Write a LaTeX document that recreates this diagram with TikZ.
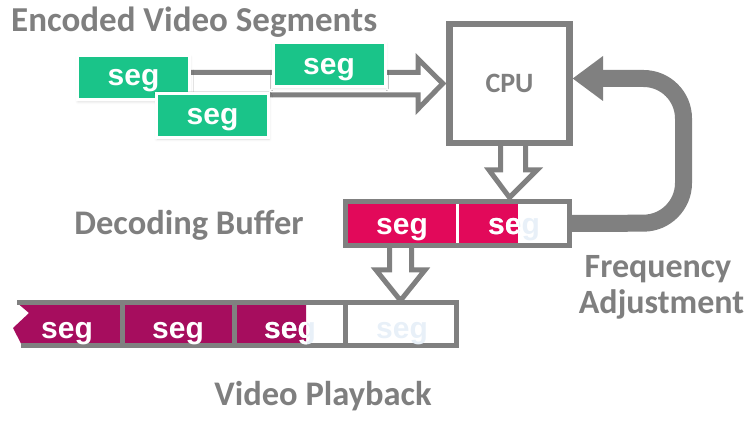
\documentclass[tikz,border=0pt]{standalone}
\usepackage{fontspec}
\setmainfont{Carlito}
\newfontfamily\segfamily{Liberation Sans}
\usetikzlibrary{shadows.blur,backgrounds}

\definecolor{segGreen}{RGB}{26,196,137}
\definecolor{bufMagenta}{RGB}{226,9,90}
\definecolor{playMagenta}{RGB}{166,13,94}
\definecolor{lineGray}{RGB}{128,128,128}
\definecolor{textGray}{RGB}{127,127,127}
\definecolor{segPale}{RGB}{232,240,248}

\begin{document}
\begin{tikzpicture}[x=1pt,y=-1pt,
  hollowarrow/.style={draw=lineGray, line width=5pt, fill=white, line join=miter},
  greenseg/.style={rectangle, fill=segGreen, draw=white, line width=3pt,
    minimum width=112pt, minimum height=44pt, inner sep=0pt,
    blur shadow={shadow xshift=0.5pt, shadow yshift=-1.5pt, shadow opacity=15, shadow blur radius=3pt}},
  cpubox/.style={rectangle, draw=lineGray, fill=white, line width=6.5pt,
    minimum width=120pt, minimum height=119pt, inner sep=0pt,
    text=textGray, font=\bfseries\fontsize{28}{32}\selectfont},
  bufbox/.style={rectangle, draw=lineGray, fill=white, line width=5pt,
    minimum width=224pt, minimum height=44pt, inner sep=0pt},
  segtext/.style={anchor=base, text=white, inner sep=0pt,
    font=\segfamily\bfseries\fontsize{30}{34}\selectfont},
  paleseg/.style={segtext, text=segPale},
  graylabel/.style={anchor=base, text=textGray, inner sep=0pt,
    font=\bfseries\fontsize{34.5}{40}\selectfont},
]
\useasboundingbox (0,0) rectangle (750,422);

% ---------- labels ----------
\node[graylabel, anchor=base west, font=\bfseries\fontsize{35}{40}\selectfont] (title) at (11,32) {Encoded Video Segments};
\node[graylabel] (declabel) at (189,235) {Decoding Buffer};
\node[graylabel, font=\bfseries\fontsize{34}{40}\selectfont] (freq) at (658,277) {Frequency};
\node[graylabel, font=\bfseries\fontsize{34}{40}\selectfont] (adj) at (661.5,313) {Adjustment};
\node[graylabel] (playlabel) at (323,405) {Video Playback};

% ---------- processor and decoding buffer ----------
\node[cpubox] (cpu) at (509.5,83.5) {CPU};
\node[bufbox] (buf) at (457.5,223.5) {};
\fill[bufMagenta] (348,204) rectangle (518,243);
\fill[white] (455.8,204) rectangle (459.2,243);
\node[segtext] (bs1) at (402,235) {seg};
\node[paleseg] (bs2) at (514,235) {seg};
\begin{scope}
  \clip (455,200) rectangle (518,248);
  \node[segtext] (bs2w) at (514,235) {seg};
\end{scope}

% ---------- incoming segments ----------
\node[greenseg] (g1) at (133.5,78) {};
\node[segtext] (gt1) at (133.5,86) {seg};
\node[greenseg] (g3) at (329,64.5) {};
\node[segtext] (gt3) at (329,75) {seg};
\node[greenseg] (g2) at (212.5,115.5) {};
\node[segtext] (gt2) at (212.5,125) {seg};

% ---------- playback strip ----------
\fill[playMagenta] (19,304.5) -- (29,313) -- (13,328) -- (21,343.5) -- (306,343.5) -- (306,304.5) -- cycle;
\draw[lineGray, line width=5pt] (17,302) -- (459,302);
\draw[lineGray, line width=5pt] (21,345.5) -- (459,345.5);
\foreach \px in {122.5,234,345.5,456.5}
  \draw[lineGray, line width=5pt] (\px,302) -- (\px,345.5);
\node[segtext] (ps1) at (67,338) {seg};
\node[segtext] (ps2) at (178,338) {seg};
\node[paleseg] (ps3) at (290,338) {seg};
\begin{scope}
  \clip (237,300) rectangle (306,348);
  \node[segtext] (ps3w) at (290,338) {seg};
\end{scope}
\node[paleseg] (ps4) at (402,338) {seg};

% ---------- connectors, kept underneath the boxes ----------
\begin{scope}[on background layer]
  % segments flowing into the processor
  \draw[hollowarrow] (175,72.5) -- (418,72.5) -- (418,59)
        -- ([xshift=-3.5pt]cpu.west) -- (418,109) -- (418,95) -- (175,95) -- cycle;
  % processor writes into the buffer
  \draw[hollowarrow] (500.5,138) -- (500.5,170) -- (489,170)
        -- ([yshift=1.5pt]cpu.south |- buf.north) -- (537,170) -- (525.5,170) -- (525.5,138) -- cycle;
  % buffer feeds playback
  \draw[hollowarrow] (389.5,240) -- (389.5,270) -- (376,270)
        -- (400.5,300.5) -- (425,270) -- (411.5,270) -- (411.5,240) -- cycle;
  % frequency feedback loop
  \draw[lineGray, line width=17pt, rounded corners=40pt]
        (buf.east) -- (683.5,223) -- (683.5,78.5) -- (601,78.5);
  \fill[lineGray] (603,56) -- (cpu.east |- 0,78.5) -- (603,101) -- cycle;
\end{scope}
\end{tikzpicture}
\end{document}
